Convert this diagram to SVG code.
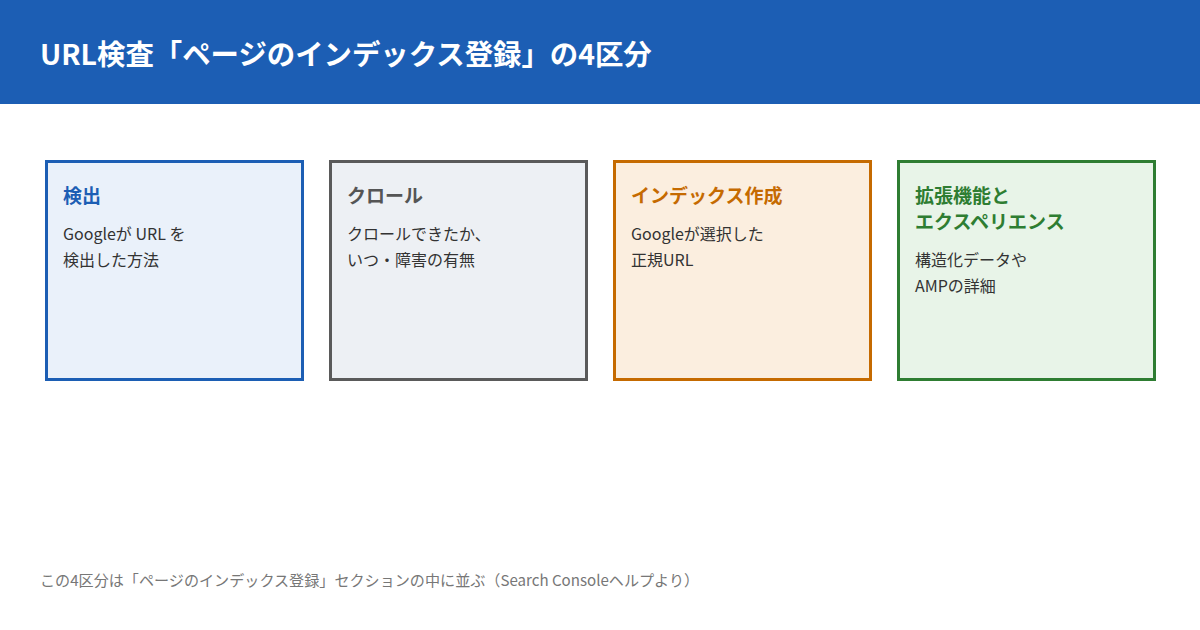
<svg xmlns="http://www.w3.org/2000/svg" width="1200" height="630" viewBox="0 0 1200 630">
<style>
text{font-family:"Noto Sans CJK JP","Noto Sans",sans-serif}
.title{font-size:28.4px;font-weight:700;fill:#fff}
.h{font-size:19px;font-weight:700}
.b{font-size:16px;fill:#333}
.box{stroke-width:3}
.foot{font-size:15.1px;fill:#777}
</style>
<rect x="0" y="0" width="1200" height="630" fill="#fff"/>
<rect x="0" y="0" width="1200" height="104" fill="#1c5eb4"/>
<text class="title" x="40" y="65">URL検査「ページのインデックス登録」の4区分</text>
<g id="node-detect">
<rect class="box" x="46.5" y="161.5" width="256" height="218" fill="#eaf1fa" stroke="#1c5eb4"/>
<text class="h" x="63" y="203" fill="#1c5eb4">検出</text>
<text class="b" x="63" y="240">Googleが URL を</text>
<text class="b" x="63" y="266">検出した方法</text>
</g>
<g id="node-crawl">
<rect class="box" x="330.5" y="161.5" width="256" height="218" fill="#edf0f4" stroke="#5a5a5a"/>
<text class="h" x="347" y="203" fill="#555">クロール</text>
<text class="b" x="347" y="240">クロールできたか、</text>
<text class="b" x="347" y="266">いつ・障害の有無</text>
</g>
<g id="node-index">
<rect class="box" x="614.5" y="161.5" width="256" height="218" fill="#fbeedf" stroke="#c56a00"/>
<text class="h" x="631" y="203" fill="#c56a00">インデックス作成</text>
<text class="b" x="631" y="240">Googleが選択した</text>
<text class="b" x="631" y="266">正規URL</text>
</g>
<g id="node-ext">
<rect class="box" x="898.5" y="161.5" width="256" height="218" fill="#e8f4e8" stroke="#2e7d32"/>
<text class="h" x="915" y="203" fill="#2e7d32">拡張機能と</text>
<text class="h" x="915" y="229" fill="#2e7d32">エクスペリエンス</text>
<text class="b" x="915" y="266">構造化データや</text>
<text class="b" x="915" y="292">AMPの詳細</text>
</g>
<g id="connectors"></g>
<text class="foot" x="40" y="586">この4区分は「ページのインデックス登録」セクションの中に並ぶ（Search Consoleヘルプより）</text>
</svg>
